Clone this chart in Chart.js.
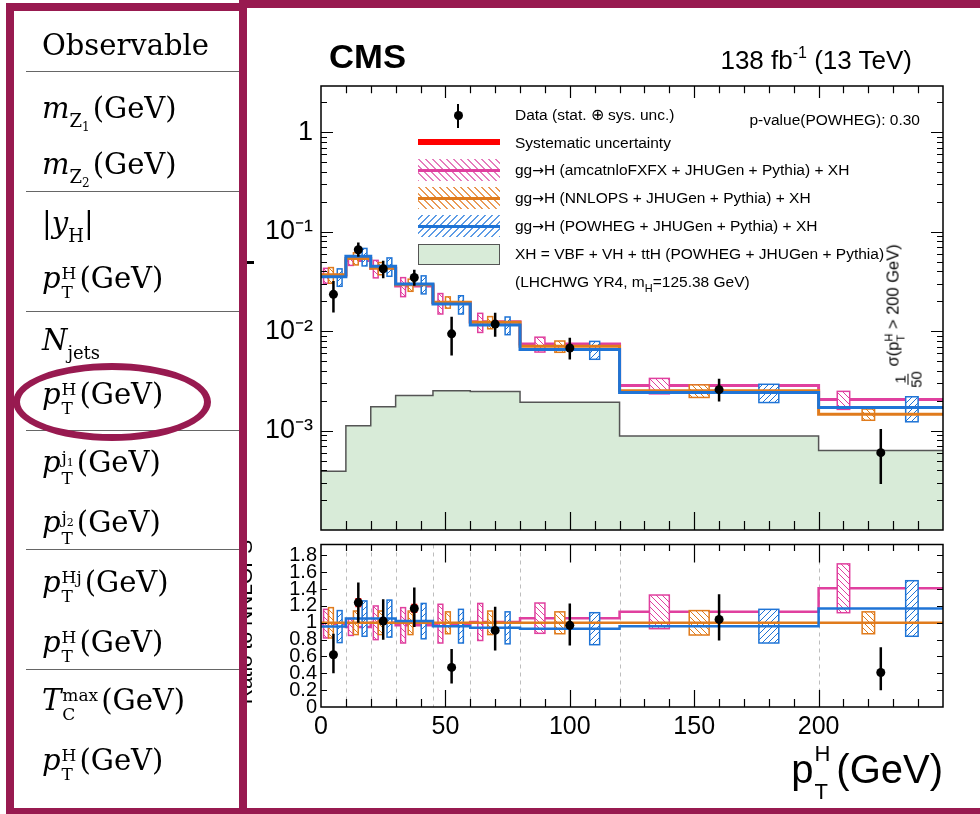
<!DOCTYPE html>
<html>
<head>
<meta charset="utf-8">
<script src="https://cdn.jsdelivr.net/npm/chart.js@4.4.1/dist/chart.umd.min.js"></script>
<style>
  html, body { margin: 0; padding: 0; }
  body { width: 980px; height: 814px; position: relative; overflow: hidden; background: #fff; color: #000;
         font-family: 'Liberation Sans', Arial, sans-serif; }
  canvas { position: absolute; z-index: 1; }
  #topChart { left: 247px; top: 0; }
  #ratioChart { left: 247px; top: 540px; }
  .abs { position: absolute; z-index: 2; white-space: nowrap; line-height: 1; }
  .leg { position: absolute; z-index: 2; white-space: nowrap; left: 515px; font-size: 15.5px; line-height: 18px; }
  .arr { font-family: 'DejaVu Sans', sans-serif; font-size: 14px; }
  .sym { position: absolute; z-index: 2; left: 418px; width: 82px; height: 22px; }
  .sym i { position: absolute; left: 0; right: 0; top: 9.5px; height: 3px; }
  #leftBox { position: absolute; left: 6px; top: 3px; width: 241px; height: 813px; box-sizing: border-box;
             border: 8px solid #981a50; background: #fff; z-index: 5; }
  #rightFrame { position: absolute; left: 239px; top: 0; width: 780px; height: 814px; box-sizing: border-box;
                border-top: 8px solid #981a50; border-left: 8px solid #981a50; border-bottom: 6px solid #981a50;
                z-index: 6; pointer-events: none; }
  .rule { position: absolute; left: 26px; width: 213px; height: 1.5px; background: #666; z-index: 7; }
  .tr { position: absolute; left: 42px; z-index: 7; font-family: 'DejaVu Serif', serif; font-size: 29px;
        line-height: 1; white-space: nowrap; }
  .tr .st { display: inline-flex; flex-direction: column; align-items: flex-start; font-size: 17px;
            line-height: 19px; position: relative; top: -9px; margin: 0 3px 0 1px; font-style: normal; }
  .tr .sb { font-size: 18px; position: relative; top: 9px; margin-right: 3px; }
  .tr .sb2 { font-size: 12px; position: relative; top: 4px; }
  .tr .j { font-size: 11px; position: relative; top: 3px; }
  #ellipse { position: absolute; left: 13px; top: 363px; width: 198px; height: 78px; box-sizing: border-box;
             border: 7px solid #981a50; border-radius: 50%; z-index: 8; }
</style>
</head>
<body>

<canvas id="topChart" width="733" height="540"></canvas>
<canvas id="ratioChart" width="733" height="274"></canvas>

<!-- texts on the plot -->
<div class="abs" style="left:329px; top:40px; font-size:33px; font-weight:bold; transform:scaleX(1.05); transform-origin:left;">CMS</div>
<div class="abs" style="right:68px; top:47px; font-size:26px;">138 fb<span style="font-size:16px; position:relative; top:-11px;">-1</span> (13 TeV)</div>
<div class="abs" style="right:60px; top:111px; font-size:15.5px; line-height:18px;">p-value(POWHEG): 0.30</div>

<!-- legend -->
<div class="abs" style="left:456.5px; top:104px; width:2.5px; height:24px; background:#000;"></div>
<div class="abs" style="left:453.5px; top:110.5px; width:9px; height:9px; border-radius:50%; background:#000;"></div>
<div class="leg" style="top:106px;">Data (stat. ⊕ sys. unc.)</div>
<div class="abs" style="left:418px; top:139px; width:82px; height:6px; background:#ff0000;"></div>
<div class="leg" style="top:134px;">Systematic uncertainty</div>
<div class="sym" style="top:159px; background:repeating-linear-gradient(45deg, #e57cbd 0 1.4px, transparent 1.4px 5px);"><i style="background:#e0409f"></i></div>
<div class="leg" style="top:161px;">gg<span class="arr">→</span>H (amcatnloFXFX + JHUGen + Pythia) + XH</div>
<div class="sym" style="top:187px; background:repeating-linear-gradient(45deg, #ea9a55 0 1.4px, transparent 1.4px 5px);"><i style="background:#e07b1c"></i></div>
<div class="leg" style="top:189px;">gg<span class="arr">→</span>H (NNLOPS + JHUGen + Pythia) + XH</div>
<div class="sym" style="top:215px; background:repeating-linear-gradient(-45deg, #5d9ce6 0 1.4px, transparent 1.4px 5px);"><i style="background:#1f74d6"></i></div>
<div class="leg" style="top:217px;">gg<span class="arr">→</span>H (POWHEG + JHUGen + Pythia) + XH</div>
<div class="abs" style="left:418px; top:244px; width:82px; height:21px; box-sizing:border-box; background:#d8ebd8; border:1.5px solid #555;"></div>
<div class="leg" style="top:245px;">XH = VBF + VH + ttH (POWHEG + JHUGen + Pythia)</div>
<div class="leg" style="top:273px;">(LHCHWG YR4, m<span style="font-size:11px; position:relative; top:5px;">H</span>=125.38 GeV)</div>

<!-- rotated label inside the top panel -->
<div class="abs" style="left:904px; top:316px; font-size:16.5px; transform:translate(-50%,-50%) rotate(-90deg);">
  <span style="display:inline-flex; flex-direction:column; align-items:center; font-size:15px; line-height:15px; vertical-align:-7px;">
    <span style="border-bottom:1.2px solid #000; padding:0 1px;">1</span><span>50</span></span>
  σ(p<span style="display:inline-flex; flex-direction:column; font-size:11px; line-height:12px; position:relative; top:-6px; vertical-align:baseline;"><span>H</span><span>T</span></span> &gt; 200 GeV)
</div>

<!-- x axis title -->
<div class="abs" style="right:37px; top:749px; font-size:40px;">p<span style="display:inline-flex; flex-direction:column; font-size:22px; line-height:38px; position:relative; top:-22px; margin:0 6px 0 1px;"><span>H</span><span>T</span></span>(GeV)</div>

<!-- pieces of the cropped axis titles -->
<div class="abs" style="left:244px; top:622px; font-size:21px; transform:translate(-50%,-50%) rotate(-90deg);">Ratio to NNLOPS</div>
<div class="abs" style="left:247px; top:261px; width:7px; height:3px; background:#000;"></div>

<!-- left table -->
<div id="leftBox"></div>
<div id="rightFrame"></div>
<div class="tr" style="top:30.5px;">Observable</div>
<div class="rule" style="top:70.5px;"></div>
<div class="tr" style="top:93.5px;"><i>m</i><span class="sb">Z<span class="sb2">1</span></span>(GeV)</div>
<div class="tr" style="top:149.5px;"><i>m</i><span class="sb">Z<span class="sb2">2</span></span>(GeV)</div>
<div class="rule" style="top:190.5px;"></div>
<div class="tr" style="top:208.5px;">|<i>y</i><span class="sb" style="margin-right:0">H</span>|</div>
<div class="tr" style="top:263.5px;"><i>p</i><span class="st"><span>H</span><span>T</span></span>(GeV)</div>
<div class="rule" style="top:310.5px;"></div>
<div class="tr" style="top:325.5px;"><i>N</i><span class="sb">jets</span></div>
<div class="tr" style="top:379.5px;"><i>p</i><span class="st"><span>H</span><span>T</span></span>(GeV)</div>
<div class="rule" style="top:429.5px;"></div>
<div class="tr" style="top:447.5px;"><i>p</i><span class="st"><span>j<span class="j">1</span></span><span>T</span></span>(GeV)</div>
<div class="tr" style="top:507.5px;"><i>p</i><span class="st"><span>j<span class="j">2</span></span><span>T</span></span>(GeV)</div>
<div class="rule" style="top:548.5px;"></div>
<div class="tr" style="top:567.5px;"><i>p</i><span class="st"><span>Hj</span><span>T</span></span>(GeV)</div>
<div class="tr" style="top:627.5px;"><i>p</i><span class="st"><span>H</span><span>T</span></span>(GeV)</div>
<div class="rule" style="top:668.5px;"></div>
<div class="tr" style="top:685.5px;"><i>T</i><span class="st"><span>max</span><span>C</span></span>(GeV)</div>
<div class="tr" style="top:745.5px;"><i>p</i><span class="st"><span>H</span><span>T</span></span>(GeV)</div>
<div id="ellipse"></div>

<script>
// bins in pT^H (GeV), the last one is pT > 200
const binEdges = [0, 10, 20, 30, 45, 60, 80, 120, 200, 250];
const dataX = [5, 15, 25, 37.5, 52.5, 70, 100, 160, 225];

// top panel : normalised cross section
const dataVal  = [0.0235, 0.066, 0.0425, 0.0347, 0.0094, 0.0118, 0.00678, 0.00258, 0.00060];
const dataUp   = [0.032, 0.078, 0.051, 0.0415, 0.0140, 0.0153, 0.0086, 0.00333, 0.00104];
const dataDown = [0.0154, 0.056, 0.034, 0.0287, 0.0057, 0.0088, 0.0052, 0.00196, 0.00029];
const nnlopsVal = [0.037, 0.054, 0.043, 0.0293, 0.0196, 0.0123, 0.00705, 0.00252, 0.00146];
const xhVal = [0.00039, 0.00112, 0.00174, 0.00225, 0.00252, 0.00247, 0.00193, 0.00088, 0.00063];

// bottom panel : ratio to NNLOPS
const amcRatio    = [0.99, 0.95, 1.00, 0.97, 0.99, 1.01, 1.055, 1.13, 1.41];
const powhegRatio = [0.955, 1.05, 1.05, 1.02, 0.96, 0.94, 0.93, 0.96, 1.17];
const ratioVal  = [0.62, 1.24, 1.02, 1.17, 0.47, 0.91, 0.97, 1.04, 0.41];
const ratioUp   = [0.87, 1.48, 1.28, 1.42, 0.69, 1.19, 1.23, 1.34, 0.71];
const ratioDown = [0.40, 1.00, 0.80, 0.95, 0.28, 0.67, 0.73, 0.79, 0.20];
const sysHalf   = [0.035, 0.055, 0.04, 0.055, 0.02, 0.025, 0.03, 0.04, 0.02];

// theory uncertainty of each prediction, in ratio units (half height of the boxes)
const amcUnc    = [0.17, 0.10, 0.20, 0.21, 0.23, 0.22, 0.18, 0.20, 0.29];
const nnlopsUnc = [0.18, 0.14, 0.14, 0.14, 0.13, 0.14, 0.13, 0.145, 0.13];
const powhegUnc = [0.19, 0.21, 0.22, 0.21, 0.20, 0.19, 0.19, 0.20, 0.33];

const xTicks = [0, 50, 100, 150, 200];
const ratioTicks = [0, 0.2, 0.4, 0.6, 0.8, 1, 1.2, 1.4, 1.6, 1.8];
const ratioTickLabels = ['0', '0.2', '0.4', '0.6', '0.8', '1', '1.2', '1.4', '1.6', '1.8'];
const logTicks = [0.001, 0.01, 0.1, 1];
const logTickLabels = ['10⁻³', '10⁻²', '10⁻¹', '1'];

const PINK = '#e0409f', ORANGE = '#e07b1c', BLUE = '#1f74d6';
const FONT = "'Liberation Sans', Arial, sans-serif";

const models = [
    { color: PINK,   ratio: amcRatio,    unc: amcUnc,    pos: 0.2,  dir: -1 },
    { color: ORANGE, ratio: nnlopsVal.map(() => 1), unc: nnlopsUnc, pos: 0.4, dir: -1 },
    { color: BLUE,   ratio: powhegRatio, unc: powhegUnc, pos: 0.75, dir: 1 }
];

// histogram as points on the bin edges, drawn with stepped lines
function stepPoints(vals) {
    return binEdges.map((e, i) => ({ x: e, y: vals[Math.min(i, vals.length - 1)] }));
}
// vertical segments split by gaps
function barPoints(lo, hi) {
    const pts = [];
    dataX.forEach((x, i) => { pts.push({ x, y: lo[i] }, { x, y: hi[i] }, { x, y: null }); });
    return pts;
}

function hatch(ctx, color, dir) {
    const c = document.createElement('canvas');
    c.width = c.height = 6;
    const g = c.getContext('2d');
    g.fillStyle = '#fff';
    g.fillRect(0, 0, 6, 6);
    g.strokeStyle = color;
    g.lineWidth = 1;
    g.beginPath();
    if (dir > 0) {
        g.moveTo(-1, 7); g.lineTo(7, -1); g.moveTo(-4, 4); g.lineTo(4, -4); g.moveTo(2, 10); g.lineTo(10, 2);
    } else {
        g.moveTo(-1, -1); g.lineTo(7, 7); g.moveTo(-4, 2); g.lineTo(4, 10); g.moveTo(2, -4); g.lineTo(10, 4);
    }
    g.stroke();
    return ctx.createPattern(c, 'repeat');
}

// boxes, dashed bin edges, frame and inward ticks (ROOT style)
const decor = {
    id: 'decor',
    beforeDatasetsDraw(chart, args, opts) {
        if (!opts.dashed) return;
        const { ctx, chartArea: ca } = chart;
        const xs = chart.scales.x;
        ctx.save();
        ctx.strokeStyle = '#bdbdbd';
        ctx.lineWidth = 1;
        ctx.setLineDash([4, 4]);
        binEdges.slice(1, -1).forEach(e => {
            const px = Math.round(xs.getPixelForValue(e)) + 0.5;
            ctx.beginPath(); ctx.moveTo(px, ca.top); ctx.lineTo(px, ca.bottom); ctx.stroke();
        });
        ctx.restore();
    },
    afterDatasetDraw(chart, args, opts) {
        if (!chart.data.datasets[args.index].boxLayer) return;
        const { ctx, chartArea: ca } = chart;
        const xs = chart.scales.x, ys = chart.scales.y;
        ctx.save();
        ctx.beginPath(); ctx.rect(ca.left, ca.top, ca.width, ca.height); ctx.clip();
        models.forEach(m => {
            const pat = hatch(ctx, m.color, m.dir);
            dataX.forEach((_, i) => {
                const lo = binEdges[i], w = binEdges[i + 1] - lo;
                const cx = xs.getPixelForValue(lo + m.pos * w);
                const half = Math.max(xs.getPixelForValue(lo + 0.05 * w) - xs.getPixelForValue(lo), 2.4);
                const scale = opts.ratio ? 1 : nnlopsVal[i];
                const yT = ys.getPixelForValue(scale * (m.ratio[i] + m.unc[i]));
                const yB = ys.getPixelForValue(scale * (m.ratio[i] - m.unc[i]));
                ctx.fillStyle = pat;
                ctx.fillRect(cx - half, yT, 2 * half, yB - yT);
                ctx.strokeStyle = m.color;
                ctx.lineWidth = 1.5;
                ctx.strokeRect(cx - half, yT, 2 * half, yB - yT);
            });
        });
        ctx.restore();
    },
    afterDraw(chart, args, opts) {
        const { ctx, chartArea: ca } = chart;
        const xs = chart.scales.x, ys = chart.scales.y;
        ctx.save();
        ctx.strokeStyle = '#000';
        ctx.lineWidth = 1.5;
        ctx.strokeRect(ca.left, ca.top, ca.width, ca.height);
        ctx.lineWidth = 1.2;
        ctx.beginPath();
        for (let v = 10; v < xs.max; v += 10) {
            const px = Math.round(xs.getPixelForValue(v)) + 0.5;
            const major = v % 50 === 0;
            ctx.moveTo(px, ca.bottom); ctx.lineTo(px, ca.bottom - (major ? opts.xMajor : opts.xMinor));
            ctx.moveTo(px, ca.top); ctx.lineTo(px, ca.top + (major ? opts.xMajorTop : opts.xMinor * 0.8));
        }
        if (opts.log) {
            for (let d = -4; d <= 0; d++) {
                for (let k = 1; k <= 9; k++) {
                    const v = k * Math.pow(10, d);
                    if (v <= ys.min || v >= ys.max) continue;
                    const py = Math.round(ys.getPixelForValue(v)) + 0.5;
                    const len = k === 1 ? 12 : 6;
                    ctx.moveTo(ca.left, py); ctx.lineTo(ca.left + len, py);
                    ctx.moveTo(ca.right, py); ctx.lineTo(ca.right - len, py);
                }
            }
        } else {
            ratioTicks.slice(1).forEach(v => {
                const py = Math.round(ys.getPixelForValue(v)) + 0.5;
                ctx.moveTo(ca.left, py); ctx.lineTo(ca.left + 6, py);
                ctx.moveTo(ca.right, py); ctx.lineTo(ca.right - 6, py);
            });
        }
        ctx.stroke();
        ctx.restore();
    }
};

function modelLines(valsFor, width) {
    return models.map((m, k) => ({
        type: 'line',
        data: stepPoints(valsFor(m)),
        stepped: true,
        borderColor: m.color,
        borderWidth: width,
        pointRadius: 0,
        fill: false,
        order: 7 - k,
        boxLayer: k === 0
    }));
}

function dataSets(val, up, down, sysLo, sysHi) {
    return [
        { type: 'line', data: barPoints(sysLo, sysHi), borderColor: '#ff0000', borderWidth: 6,
          pointRadius: 0, spanGaps: false, order: 3, borderCapStyle: 'butt' },
        { type: 'line', data: barPoints(down, up), borderColor: '#000', borderWidth: 2.5,
          pointRadius: 0, spanGaps: false, order: 2, borderCapStyle: 'butt' },
        { type: 'line', data: dataX.map((x, i) => ({ x, y: val[i] })), showLine: false,
          pointRadius: 4.5, pointBackgroundColor: '#000', pointBorderWidth: 0, order: 1 }
    ];
}

function zeroPad(s) { s.paddingTop = 0; s.paddingBottom = 0; s.paddingLeft = 0; s.paddingRight = 0; }

const base = {
    responsive: false, maintainAspectRatio: false, animation: false, devicePixelRatio: 1, events: [],
    plugins: { legend: { display: false }, tooltip: { enabled: false } }
};

// top panel
const topSysLo = dataVal.map((v, i) => v * (1 - sysHalf[i] / ratioVal[i]));
const topSysHi = dataVal.map((v, i) => v * (1 + sysHalf[i] / ratioVal[i]));
new Chart(document.getElementById('topChart'), {
    type: 'line',
    data: {
        datasets: [
            { type: 'line', data: stepPoints(xhVal), stepped: true, fill: 'start', backgroundColor: '#d8ebd8',
              borderColor: '#555', borderWidth: 1.5, pointRadius: 0, order: 9 },
            ...modelLines(m => nnlopsVal.map((v, i) => v * m.ratio[i]), 3),
            ...dataSets(dataVal, dataUp, dataDown, topSysLo, topSysHi)
        ]
    },
    options: {
        ...base,
        layout: { padding: { top: 86, right: 37, left: 0, bottom: 0 } },
        plugins: { ...base.plugins, decor: { log: true, xMajor: 18, xMajorTop: 12, xMinor: 9 } },
        scales: {
            x: { type: 'linear', min: 0, max: 250, ticks: { display: false }, grid: { display: false },
                 border: { display: false }, afterFit: s => { s.height = 10; zeroPad(s); } },
            y: { type: 'logarithmic', min: 0.0001, max: 2.93,
                 grid: { display: false, drawTicks: false }, border: { display: false },
                 afterBuildTicks: s => { s.ticks = logTicks.map(v => ({ value: v })); },
                 ticks: { autoSkip: false, padding: 8, color: '#000', font: { family: FONT, size: 27 },
                          callback: (v, i) => logTickLabels[i] },
                 afterFit: s => { s.width = 74; zeroPad(s); } }
        }
    },
    plugins: [decor]
});

// ratio panel
new Chart(document.getElementById('ratioChart'), {
    type: 'line',
    data: {
        datasets: [
            ...modelLines(m => m.ratio, 2.5),
            ...dataSets(ratioVal, ratioUp, ratioDown,
                        ratioVal.map((v, i) => v - sysHalf[i]), ratioVal.map((v, i) => v + sysHalf[i]))
        ]
    },
    options: {
        ...base,
        layout: { padding: { top: 4, right: 37, left: 0, bottom: 0 } },
        plugins: { ...base.plugins, decor: { ratio: true, dashed: true, xMajor: 17, xMajorTop: 18, xMinor: 8 } },
        scales: {
            x: { type: 'linear', min: 0, max: 250, grid: { display: false, drawTicks: false },
                 border: { display: false },
                 afterBuildTicks: s => { s.ticks = xTicks.map(v => ({ value: v })); },
                 ticks: { autoSkip: false, maxRotation: 0, padding: 5, color: '#000', font: { family: FONT, size: 25 } },
                 afterFit: s => { s.height = 107; zeroPad(s); } },
            y: { type: 'linear', min: 0, max: 1.93, grid: { display: false, drawTicks: false },
                 border: { display: false },
                 afterBuildTicks: s => { s.ticks = ratioTicks.map(v => ({ value: v })); },
                 ticks: { autoSkip: false, padding: 4, color: '#000', font: { family: FONT, size: 20 },
                          callback: (v, i) => ratioTickLabels[i] },
                 afterFit: s => { s.width = 74; zeroPad(s); } }
        }
    },
    plugins: [decor]
});
</script>
</body>
</html>
